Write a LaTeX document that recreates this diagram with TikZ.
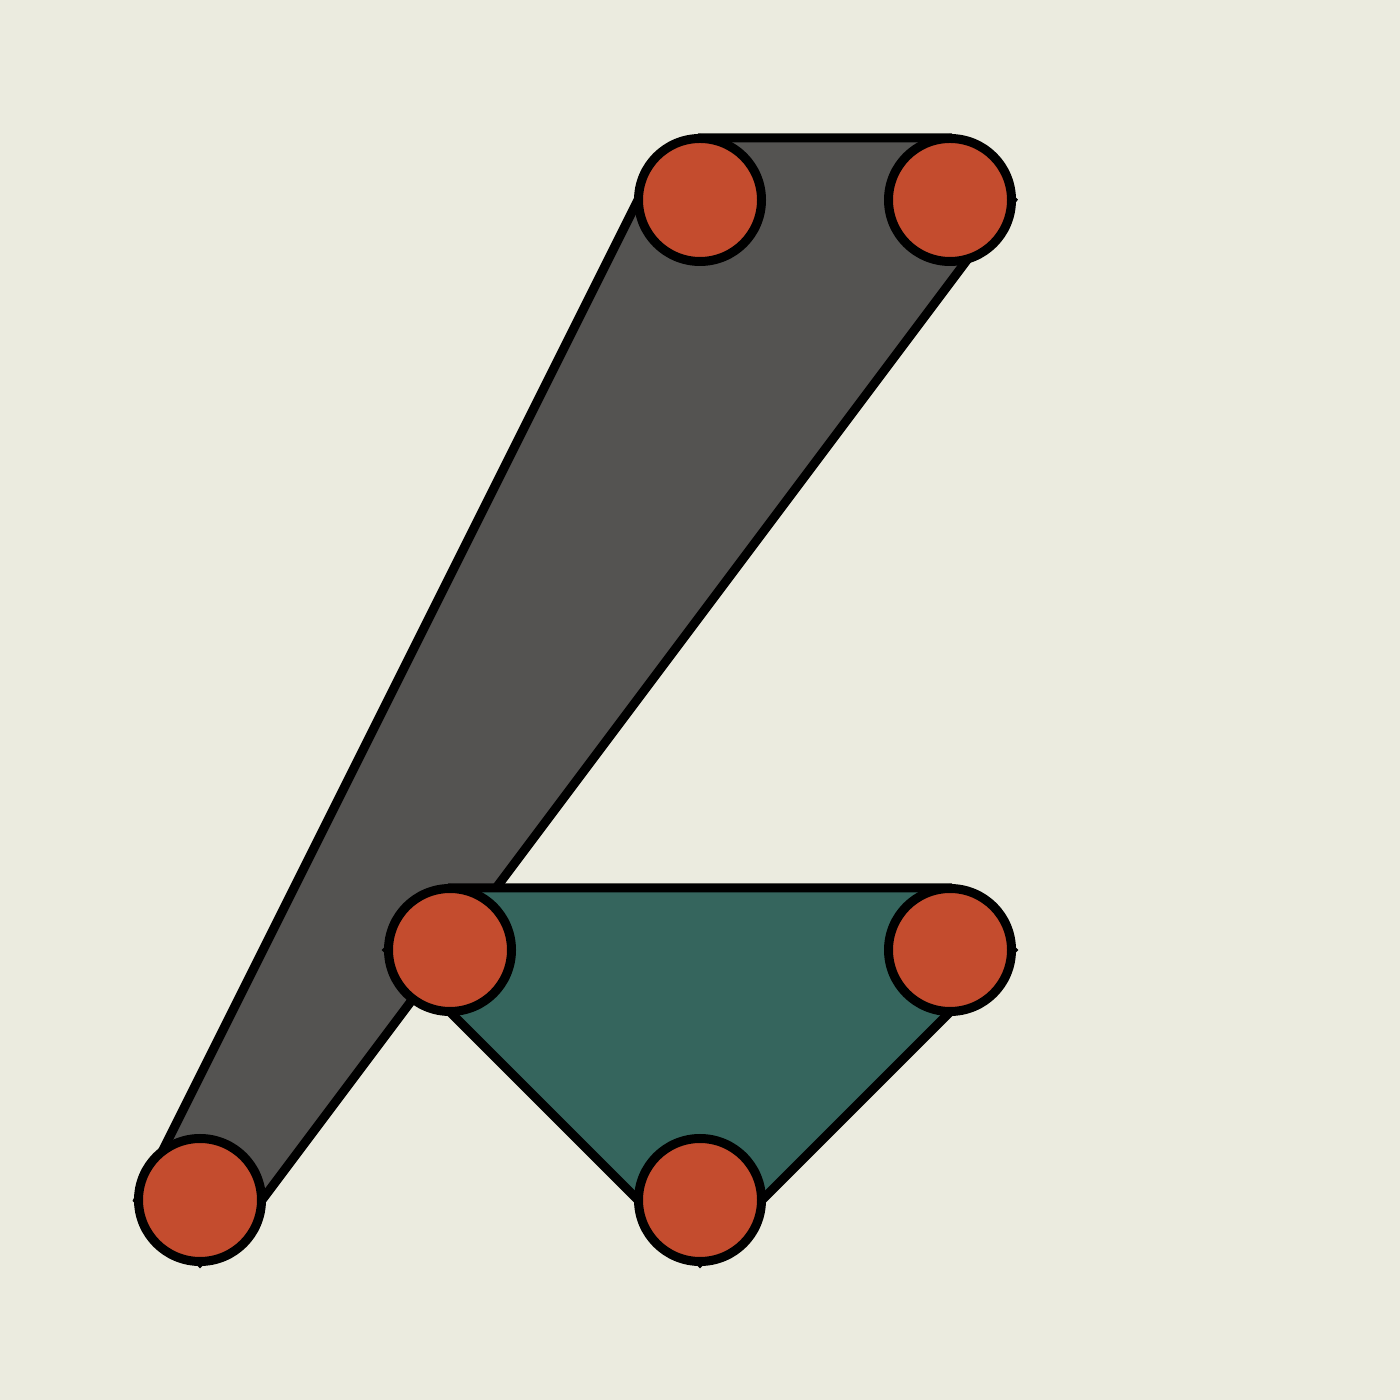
\documentclass[tikz,border=0pt]{standalone}
\usetikzlibrary{positioning, backgrounds}
\definecolor{paper}{RGB}{235,235,223}
\definecolor{edgegrey}{RGB}{84,83,81}
\definecolor{edgeteal}{RGB}{53,101,93}
\definecolor{vertexred}{RGB}{196,76,46}

\begin{document}
\begin{tikzpicture}[
    vertex/.style={circle, draw=black, line width=0.09cm, fill=vertexred, inner sep=0pt, outer sep=0.05mm, minimum size=1.23cm},
    hull/.style={fill=#1, draw=black, line width=0.09cm, line join=miter}
]

\useasboundingbox (0,0) rectangle (14,14);

% vertices
\node[vertex] (v1) at (7,12) {};
\node[vertex] (v2) at (9.5,12) {};
\node[vertex] (v3) at (2,2) {};
\node[vertex] (v4) at (4.5,4.5) {};
\node[vertex] (v5) at (9.5,4.5) {};
\node[vertex] (v6) at (7,2) {};

% hyperedges behind the vertices
\begin{scope}[on background layer]
\fill[paper] (0,0) rectangle (14,14);
\filldraw[hull=edgegrey] (v1.north) -- (v2.north) -- (v2.east) -- (v3.east)
    -- (v3.south) -- (v3.west) -- (v1.west) -- cycle;
\filldraw[hull=edgeteal] (v4.north) -- (v5.north) -- (v5.east) -- (v6.south)
    -- (v4.west) -- cycle;
\end{scope}

\end{tikzpicture}
\end{document}
